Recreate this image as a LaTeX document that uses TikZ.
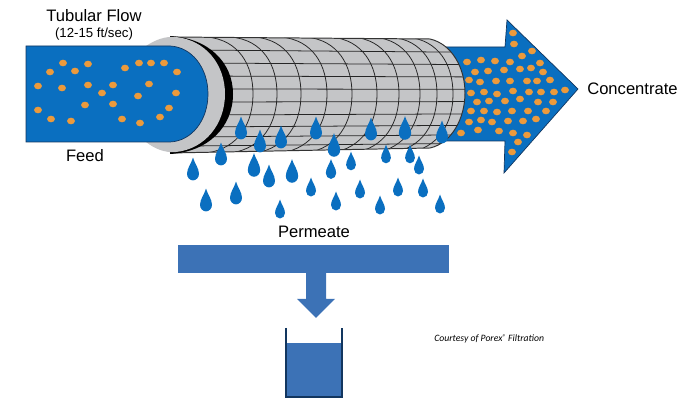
\documentclass[tikz,border=0pt]{standalone}
\usepackage{fontspec}
\setmainfont{Liberation Sans}
\newfontfamily\courtesyfont{Carlito}
\definecolor{flowblue}{HTML}{0A6FC0}
\definecolor{navyline}{HTML}{12365F}
\definecolor{dotorange}{HTML}{EC9A3C}
\definecolor{tubegray}{HTML}{C4C5C7}
\definecolor{panelblue}{HTML}{3C72B6}
\tikzset{
  flowshape/.style={fill=flowblue, draw=navyline, line width=0.5pt},
  gridline/.style={black!85, line width=0.55pt},
  label/.style={inner sep=0pt, font=\fontsize{11.8}{14}\selectfont}
}
\begin{document}
\begin{tikzpicture}[x=0.025cm,y=-0.025cm]
  \useasboundingbox (0,0) rectangle (700,400);

  \draw [flowshape] (420,47) -- (505,47) -- (507,20) -- (578,89) -- (504,173) -- (505,141) -- (420,141) -- cycle;
  \foreach \px/\py in {513/33,514/44,532/51,522/56,540/63,467/62,481/60,495/61,510/62,475/72,488/71,504/70,520/69,531/68,543/72,469/80,480/82,496/81,510/81,527/81,537/81,550/80,471/93,484/92,497/94,513/91,529/92,541/92,554/92,565/90,477/102,489/101,505/101,520/99,538/102,553/102,471/111,484/111,497/112,512/111,528/111,546/111,469/122,481/120,492/122,508/121,523/121,536/119,461/133,478/130,499/131,513/133,527/135,518/142,512/152}
    \fill [dotorange] (\px,\py) ellipse (3.9 and 3.3);

  \begin{scope}
    \clip (170,37) -- (430,39) .. controls (452,44) and (465,68) .. (465,93) .. controls (465,118) and (452,143) .. (430,148) -- (170,153) -- cycle;
    \fill [tubegray] (170,37) rectangle (470,153);
    \foreach \py in {50,63,76,89,102,115,127,137,146}
      \draw [gridline] (190,\py) -- (465,{94+(\py-94)*0.95});
    \foreach \pm in {253,277,301,327,352,377,399,420,437,453}
      \draw [gridline] (\pm-46,37) .. controls (\pm-14,40) and (\pm,65) .. (\pm,94) .. controls (\pm,123) and (\pm-14,148) .. (\pm-46,153);
  \end{scope}
  \draw [black!80, line width=0.7pt] (170,37) -- (430,39) .. controls (452,44) and (465,68) .. (465,93) .. controls (465,118) and (452,143) .. (430,148) -- (170,153);

  \fill [black] (170,36) .. controls (208,38) and (233,62) .. (233,94) .. controls (233,127) and (208,152) .. (170,154) -- cycle;
  \fill [tubegray] (146,46) .. controls (155,40) and (165,36) .. (176,37) .. controls (205,40) and (225,64) .. (225,94) .. controls (225,124) and (205,149) .. (176,152) .. controls (165,153) and (155,149) .. (146,142) -- cycle;
  \draw [flowshape] (26,46) -- (170,46) .. controls (192,47) and (208,68) .. (208,94) .. controls (208,120) and (192,141) .. (170,142) -- (26,142) -- cycle;
  \foreach \px/\py in {63/63,88/64,50/72,75/71,38/86,62/88,88/85,113/85,102/93,38/110,51/119,71/121,85/105,113/104,122/119,140/123,160/117,169/108,176/93,138/96,149/84,125/68,139/63,151/63,164/63,177/72}
    \fill [dotorange] (\px,\py) ellipse (3.9 and 3.3);

  \foreach \px/\py/\pr in {241/128/6,260/141/6,281/137/6,316/128/6,334/145/6.2,371/129/6,405/128/6.2,442/132/6,221/154/6,193/169/6,254/165/6.2,269/176/6,292/171/6.2,331/169/5.2,351/161/4.9,386/154/4.9,410/154/4.9,419/165/5,311/187/5,360/189/5,398/187/5,423/188/5,206/200/6,236/193/6,280/209/5,336/201/5,380/205/5,440/204/5}
    \fill [flowblue, shift={(\px,\py)}, scale=\pr] (0,-1.9) .. controls (-0.25,-1) and (-1,-0.1) .. (-1,0.8) .. controls (-1,1.4) and (-0.55,1.9) .. (0,1.9) .. controls (0.55,1.9) and (1,1.4) .. (1,0.8) .. controls (1,-0.1) and (0.25,-1) .. (0,-1.9) -- cycle;

  \fill [panelblue] (178,245) rectangle (449,273);
  \fill [panelblue] (306,273) -- (326,273) -- (326,299) -- (335,299) -- (316,318) -- (297,299) -- (306,299) -- cycle;
  \fill [panelblue] (286,343) rectangle (342,397);
  \draw [navyline, line width=0.8pt] (286,328) -- (286,397) -- (342,397) -- (342,328);

  \node [label] (tubular) at (94,16) {Tubular Flow};
  \node [inner sep=0pt, font=\fontsize{9.4}{11}\selectfont] (rate) at (94,34) {(12-15 ft/sec)};
  \node [label] (feed) at (85,156) {Feed};
  \node [label, anchor=west] (concentrate) at (587,89) {Concentrate};
  \node [label] (permeate) at (314,232) {Permeate};
  \node [inner sep=0pt, anchor=west, font=\courtesyfont\itshape\fontsize{6.9}{8}\selectfont] (courtesy) at (434,339) {Courtesy of Porex\raisebox{1.2pt}{\fontsize{5}{6}\selectfont ®} Filtration};
\end{tikzpicture}
\end{document}
